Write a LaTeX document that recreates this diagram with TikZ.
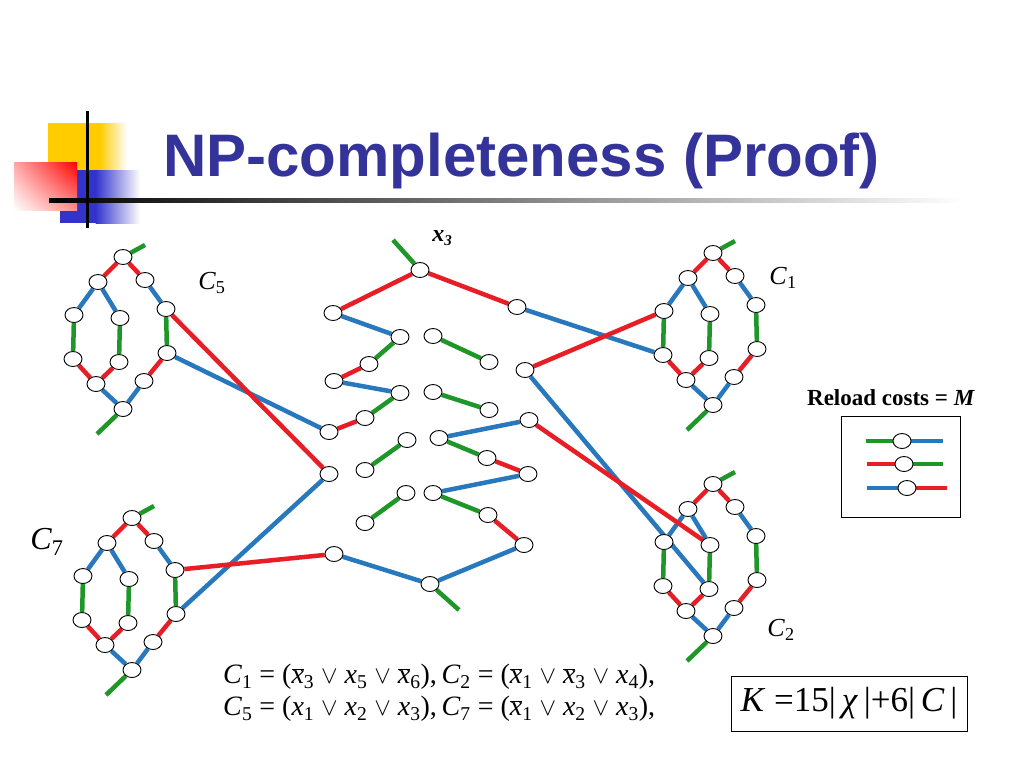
\documentclass[tikz,border=0pt]{standalone}
\usepackage{fontspec}
\setmainfont{Liberation Serif}
\newfontfamily\titlefont{Liberation Sans}
\usetikzlibrary{shapes.geometric,shadings}
\pgfdeclarelayer{back}
\pgfdeclarelayer{bg}
\pgfsetlayers{back,bg,main}
\definecolor{cr}{RGB}{232,30,38}
\definecolor{cb}{RGB}{40,120,190}
\definecolor{cg}{RGB}{30,150,40}
\definecolor{titleblue}{RGB}{51,51,153}
\definecolor{logoyellow}{RGB}{255,204,0}
\definecolor{logoblue}{RGB}{51,51,204}
\tikzset{
 vtx/.style={ellipse,draw=black,line width=0.9pt,fill=white,minimum width=18pt,minimum height=15pt,inner sep=0pt},
 er/.style={draw=cr,line width=4.5pt},
 eb/.style={draw=cb,line width=4.5pt},
 eg/.style={draw=cg,line width=4.5pt},
 clabel/.style={inner sep=0pt,font=\fontsize{26}{26}\selectfont},
}
\newcommand\mkgadget[3]{%
 \begin{scope}[shift={(#2,#3)}]
  \node[vtx] (#1T) at (0,0) {};
  \node[vtx] (#1A) at (-25,25) {};
  \node[vtx] (#1B) at (22,23) {};
  \node[vtx] (#1L1) at (-49,58) {};
  \node[vtx] (#1M1) at (-3,61) {};
  \node[vtx] (#1L2) at (-50,102) {};
  \node[vtx] (#1M2) at (-4,105) {};
  \node[vtx] (#1D) at (-27,127) {};
  \node[vtx] (#1E) at (0,152) {};
  \node[vtx] (#1R1) at (43,52) {};
  \node[vtx] (#1R2) at (44,96) {};
  \node[vtx] (#1F) at (21,124) {};
  \coordinate (#1sa) at (22,-12);
  \coordinate (#1sb) at (-26,177);
  \begin{pgfonlayer}{bg}
   \draw[eg] (#1sa) -- (#1T);
   \draw[er] (#1T) -- (#1A);
   \draw[er] (#1T) -- (#1B);
   \draw[eb] (#1A) -- (#1L1);
   \draw[eb] (#1A) -- (#1M1);
   \draw[eg] (#1L1) -- (#1L2);
   \draw[eg] (#1M1) -- (#1M2);
   \draw[er] (#1L2) -- (#1D);
   \draw[er] (#1M2) -- (#1D);
   \draw[eb] (#1D) -- (#1E);
   \draw[eb] (#1B) -- (#1R1);
   \draw[eg] (#1R1) -- (#1R2);
   \draw[er] (#1R2) -- (#1F);
   \draw[eb] (#1F) -- (#1E);
   \draw[eg] (#1E) -- (#1sb);
  \end{pgfonlayer}
 \end{scope}}
\newcommand\orx{\ensuremath{\;\vee\;}}
\newcommand\nx[1]{$\overline{\mbox{\itshape x}}$\textsubscript{#1}}
\newcommand\px[1]{\textit{x}\textsubscript{#1}}
\begin{document}
\begin{tikzpicture}[x=1pt,y=-1pt]
\useasboundingbox (0,0) rectangle (1024,768);
\begin{pgfonlayer}{back}
\fill[white] (0,0) rectangle (1024,768);
\end{pgfonlayer}
% logo
\fill[logoyellow] (48,123) rectangle (100,170);
\shade[left color=logoyellow,right color=white] (99.5,123) rectangle (127,170);
\fill[logoblue] (60,170) rectangle (96,223);
\shade[left color=logoblue,right color=white] (95.5,170) rectangle (140,223);
\shade[upper right=red,upper left=red!35,lower right=red!45,lower left=white] (14,162) rectangle (77,210);
\shade[left color=black,right color=white] (49,198.8) rectangle (965,202.5);
\fill[black] (85.8,111) rectangle (88.6,228);
\node[anchor=base west,inner sep=0pt,text=titleblue,font=\titlefont\bfseries\fontsize{60}{60}\selectfont] (title) at (163,176) {NP-completeness (Proof)};
% gadgets
\mkgadget{cf}{123}{257}
\mkgadget{ca}{713}{253}
\mkgadget{cb}{713}{484}
\mkgadget{cs}{132}{518}
\node[clabel] (lc5) at (212,283) {\textit{C}\textsubscript{5}};
\node[clabel] (lc1) at (783,278) {\textit{C}\textsubscript{1}};
\node[clabel] (lc2) at (781,630) {\textit{C}\textsubscript{2}};
\node[inner sep=0pt,font=\fontsize{32}{32}\selectfont] (lc7) at (47,542) {\textit{C}\textsubscript{7}};
% middle variable gadget
\node[inner sep=0pt,font=\fontsize{24}{24}\selectfont\bfseries\itshape] (lx3) at (442,238) {x\raisebox{-0.35ex}{\fontsize{15}{15}\selectfont 3}};
\node[vtx] (x3) at (420,270) {};
\node[vtx] (a1) at (333,313) {};
\node[vtx] (a2) at (400,337) {};
\node[vtx] (a3) at (369,364) {};
\node[vtx] (a4) at (334,381) {};
\node[vtx] (a5) at (400,393) {};
\node[vtx] (a6) at (365,418) {};
\node[vtx] (a7) at (329,432) {};
\node[vtx] (a8) at (329,474) {};
\node[vtx] (a9) at (334,554) {};
\node[vtx] (g1) at (365,470) {};
\node[vtx] (g2) at (407,440) {};
\node[vtx] (g3) at (365,523) {};
\node[vtx] (g4) at (406,493) {};
\node[vtx] (b1) at (517,307) {};
\node[vtx] (b2) at (525,370) {};
\node[vtx] (h1) at (433,336) {};
\node[vtx] (h2) at (489,362) {};
\node[vtx] (h3) at (433,392) {};
\node[vtx] (h4) at (489,410) {};
\node[vtx] (p1) at (439,438) {};
\node[vtx] (p2) at (529,420) {};
\node[vtx] (p3) at (487,458) {};
\node[vtx] (p4) at (528,474) {};
\node[vtx] (q1) at (433,493) {};
\node[vtx] (q2) at (488,515) {};
\node[vtx] (q3) at (524,545) {};
\node[vtx] (bt) at (430,584) {};
\coordinate (x3s) at (393,240);
\coordinate (bts) at (459,610);
\begin{pgfonlayer}{bg}
\draw[eg] (x3s) -- (x3);
\draw[er] (x3) -- (a1);
\draw[er] (x3) -- (b1);
\draw[eb] (a1) -- (a2);
\draw[eg] (a2) -- (a3);
\draw[er] (a3) -- (a4);
\draw[eb] (a4) -- (a5);
\draw[eg] (a5) -- (a6);
\draw[er] (a6) -- (a7);
\draw[eg] (g1) -- (g2);
\draw[eg] (g3) -- (g4);
\draw[eg] (h1) -- (h2);
\draw[eg] (h3) -- (h4);
\draw[eb] (p1) -- (p2);
\draw[eg] (p1) -- (p3);
\draw[er] (p3) -- (p4);
\draw[eb] (q1) -- (p4);
\draw[eg] (q1) -- (q2);
\draw[er] (q2) -- (q3);
\draw[eb] (q3) -- (bt);
\draw[eb] (bt) -- (a9);
\draw[eg] (bt) -- (bts);
% connections to clause gadgets
\draw[eb] (a7) -- (cfR2);
\draw[er] (a8) -- (cfR1);
\draw[eb] (a8) -- (csR2);
\draw[er] (a9) -- (csR1);
\draw[eb] (b1) -- (caL2);
\draw[er] (b2) -- (caL1);
\draw[eb] (b2) -- (cbM2);
\draw[er] (p2) -- (cbM1);
\end{pgfonlayer}
% legend
\node[font=\fontsize{23}{23}\selectfont\bfseries] (rl) at (891,398) {Reload costs = \textit{M}};
\draw[black,line width=1pt] (841,416) rectangle (960,517);
\node[vtx] (l1) at (902,441) {};
\node[vtx] (l2) at (904,464) {};
\node[vtx] (l3) at (907,488) {};
\coordinate (l1a) at (866,441); \coordinate (l1b) at (943,441);
\coordinate (l2a) at (867,464); \coordinate (l2b) at (943,464);
\coordinate (l3a) at (867,488); \coordinate (l3b) at (947,488);
\begin{pgfonlayer}{bg}
\draw[eg] (l1a) -- (l1); \draw[eb] (l1) -- (l1b);
\draw[er] (l2a) -- (l2); \draw[eg] (l2) -- (l2b);
\draw[eb] (l3a) -- (l3); \draw[er] (l3) -- (l3b);
\end{pgfonlayer}
% formulas
\node[anchor=west,inner sep=0pt,font=\fontsize{28}{28}\selectfont] (f1) at (223,677)
 {\textit{C}\textsubscript{1} = (\nx{3}\orx\px{5}\orx\nx{6}),\,\textit{C}\textsubscript{2} = (\nx{1}\orx\nx{3}\orx\px{4}),};
\node[anchor=west,inner sep=0pt,font=\fontsize{28}{28}\selectfont] (f2) at (223,709)
 {\textit{C}\textsubscript{5} = (\px{1}\orx\px{2}\orx\px{3}),\,\textit{C}\textsubscript{7} = (\nx{1}\orx\px{2}\orx\px{3}),};
\node[draw=black,line width=1pt,minimum width=236pt,minimum height=55pt,inner sep=0pt,font=\fontsize{35}{35}\selectfont] (kb) at (849,703.5)
 {\textit{K} =15|\,\textit{χ}\,|+6|\,\textit{C}\,|};
\end{tikzpicture}
\end{document}
